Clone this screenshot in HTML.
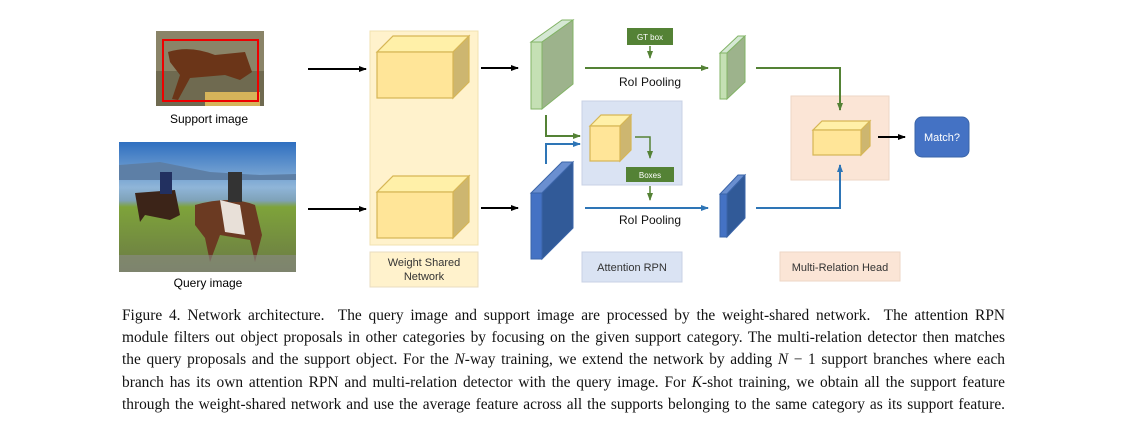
<!DOCTYPE html>
<html><head><meta charset="utf-8"><style>
html,body{margin:0;padding:0;background:#fff;width:1127px;height:430px;overflow:hidden;position:relative}
svg{position:absolute;left:0;top:0}
.cap{position:absolute;left:122px;width:883px;font-family:"Liberation Serif",serif;font-size:15.4px;color:#111}
.cap div{height:22.2px;line-height:22.2px;text-align:justify;text-align-last:justify;white-space:normal;overflow:hidden}
i{font-style:italic}
</style></head><body>
<svg width="1127" height="300" viewBox="0 0 1127 300" font-family="Liberation Sans, sans-serif">
<defs>
<marker id="ak" markerWidth="8" markerHeight="8" refX="7" refY="4" orient="auto" markerUnits="userSpaceOnUse"><path d="M0,1 L8,4 L0,7 z" fill="#000"/></marker>
<marker id="ag" markerWidth="8" markerHeight="8" refX="7" refY="4" orient="auto" markerUnits="userSpaceOnUse"><path d="M0,1 L8,4 L0,7 z" fill="#548235"/></marker>
<marker id="ab" markerWidth="8" markerHeight="8" refX="7" refY="4" orient="auto" markerUnits="userSpaceOnUse"><path d="M0,1 L8,4 L0,7 z" fill="#2e75b6"/></marker>
<linearGradient id="sky" x1="0" y1="0" x2="0" y2="1"><stop offset="0" stop-color="#2f6fc0"/><stop offset="0.35" stop-color="#8fb5d8"/><stop offset="0.45" stop-color="#7fa2b8"/><stop offset="0.5" stop-color="#7ea33a"/><stop offset="1" stop-color="#6b7a45"/></linearGradient>
</defs>
<rect x="156" y="31" width="108" height="75" fill="#6f6a50"/>
<rect x="156" y="31" width="108" height="40" fill="#8a8468"/>
<path d="M168,52 Q190,45 215,55 L245,52 L252,72 L240,80 L225,75 L190,78 L178,100 L172,99 L180,75 L170,62z" fill="#6b3518"/>
<rect x="205" y="92" width="55" height="14" fill="#d6b45a"/>
<rect x="163" y="40" width="95" height="61" fill="none" stroke="#e00" stroke-width="2"/>
<text x="209" y="123" font-size="12" text-anchor="middle">Support image</text>
<rect x="119" y="142" width="177" height="130" fill="url(#sky)"/>
<path d="M119,165 L160,162 L210,172 L260,175 L296,174 L296,180 L119,180z" fill="#5d7fa6"/>
<path d="M135,193 L175,190 L180,215 L170,220 L145,215 L140,222z" fill="#3c2418"/>
<path d="M195,205 Q230,195 255,205 L262,235 L255,262 L250,240 L220,235 L210,262 L205,238 L195,225z" fill="#6b3a22"/>
<path d="M220,200 L240,205 L245,235 L225,232z" fill="#e8e0d8"/>
<rect x="228" y="172" width="14" height="30" fill="#333"/>
<rect x="160" y="172" width="12" height="22" fill="#223060"/>
<rect x="119" y="255" width="177" height="17" fill="#8a8a88" opacity="0.6"/>
<text x="208" y="287" font-size="12" text-anchor="middle">Query image</text>
<line x1="308" y1="69" x2="366" y2="69" stroke="#000" stroke-width="2" marker-end="url(#ak)"/>
<line x1="308" y1="209" x2="366" y2="209" stroke="#000" stroke-width="2" marker-end="url(#ak)"/>
<rect x="370" y="31" width="108" height="214" fill="#fff2cc" stroke="#f0e2b0"/>
<rect x="370" y="252" width="108" height="35" fill="#fff2cc" stroke="#e8dcc0"/>
<text x="424" y="266" font-size="11" text-anchor="middle" fill="#333">Weight Shared</text>
<text x="424" y="280" font-size="11" text-anchor="middle" fill="#333">Network</text>
<g stroke="#d6b656" stroke-width="1.2">
<path d="M377,52 L393,36 L469,36 L453,52z" fill="#fff0a8"/>
<path d="M453,52 L469,36 L469,82 L453,98z" fill="#cdb670"/>
<rect x="377" y="52" width="76" height="46" fill="#ffe598"/>
<path d="M377,192 L393,176 L469,176 L453,192z" fill="#fff0a8"/>
<path d="M453,192 L469,176 L469,222 L453,238z" fill="#cdb670"/>
<rect x="377" y="192" width="76" height="46" fill="#ffe598"/>
</g>
<line x1="481" y1="68" x2="518" y2="68" stroke="#000" stroke-width="2" marker-end="url(#ak)"/>
<line x1="481" y1="208" x2="518" y2="208" stroke="#000" stroke-width="2" marker-end="url(#ak)"/>
<g stroke="#82b366" stroke-width="1">
<path d="M531,42 L542,42 L573,20 L562,20z" fill="#d5e8d4"/>
<path d="M542,42 L573,20 L573,84 L542,109z" fill="#9db38c"/>
<rect x="531" y="42" width="11" height="67" fill="#c5e0b4"/>
</g>
<g stroke="#3a64a8" stroke-width="1">
<path d="M531,193 L542,193 L573,162 L562,162z" fill="#6a8fd0"/>
<path d="M542,193 L573,162 L573,228 L542,259z" fill="#315a98"/>
<rect x="531" y="193" width="11" height="66" fill="#4472c4"/>
</g>
<rect x="627" y="28" width="46" height="17" fill="#548235"/>
<text x="650" y="40" font-size="8" text-anchor="middle" fill="#fff">GT box</text>
<line x1="650" y1="46" x2="650" y2="58" stroke="#548235" stroke-width="1.5" marker-end="url(#ag)"/>
<line x1="585" y1="68" x2="708" y2="68" stroke="#548235" stroke-width="2" marker-end="url(#ag)"/>
<text x="650" y="86" font-size="12" text-anchor="middle" fill="#111">RoI Pooling</text>
<rect x="582" y="101" width="100" height="84" fill="#dae3f3" stroke="#c8d2e4"/>
<g stroke="#d6b656" stroke-width="1.2">
<path d="M590,126 L601,115 L631,115 L620,126z" fill="#fff0a8"/>
<path d="M620,126 L631,115 L631,150 L620,161z" fill="#cdb670"/>
<rect x="590" y="126" width="30" height="35" fill="#ffe598"/>
</g>
<polyline points="546,115 546,136 580,136" fill="none" stroke="#548235" stroke-width="2" marker-end="url(#ag)"/>
<polyline points="546,164 546,144 580,144" fill="none" stroke="#2e75b6" stroke-width="2" marker-end="url(#ab)"/>
<polyline points="635,137 650,137 650,158" fill="none" stroke="#548235" stroke-width="1.5" marker-end="url(#ag)"/>
<rect x="626" y="167" width="48" height="15" fill="#548235"/>
<text x="650" y="178" font-size="8" text-anchor="middle" fill="#fff">Boxes</text>
<line x1="650" y1="186" x2="650" y2="200" stroke="#548235" stroke-width="1.5" marker-end="url(#ag)"/>
<line x1="585" y1="208" x2="708" y2="208" stroke="#2e75b6" stroke-width="2" marker-end="url(#ab)"/>
<text x="650" y="224" font-size="12" text-anchor="middle" fill="#111">RoI Pooling</text>
<rect x="582" y="252" width="100" height="30" fill="#dae3f3" stroke="#c8d2e4"/>
<text x="632" y="271" font-size="11" text-anchor="middle" fill="#333">Attention RPN</text>
<g stroke="#82b366" stroke-width="1">
<path d="M720,53 L727,53 L745,36 L738,36z" fill="#d5e8d4"/>
<path d="M727,53 L745,36 L745,82 L727,99z" fill="#9db38c"/>
<rect x="720" y="53" width="7" height="46" fill="#c5e0b4"/>
</g>
<g stroke="#3a64a8" stroke-width="1">
<path d="M720,194 L727,194 L745,175 L738,175z" fill="#6a8fd0"/>
<path d="M727,194 L745,175 L745,218 L727,237z" fill="#315a98"/>
<rect x="720" y="194" width="7" height="43" fill="#4472c4"/>
</g>
<rect x="791" y="96" width="98" height="84" fill="#fbe5d6" stroke="#eed6c6"/>
<polyline points="756,68 840,68 840,110" fill="none" stroke="#548235" stroke-width="2" marker-end="url(#ag)"/>
<polyline points="756,208 840,208 840,165" fill="none" stroke="#2e75b6" stroke-width="2" marker-end="url(#ab)"/>
<g stroke="#d6b656" stroke-width="1.2">
<path d="M813,130 L822,121 L870,121 L861,130z" fill="#fff0a8"/>
<path d="M861,130 L870,121 L870,146 L861,155z" fill="#cdb670"/>
<rect x="813" y="130" width="48" height="25" fill="#ffe598"/>
</g>
<line x1="878" y1="137" x2="905" y2="137" stroke="#000" stroke-width="2" marker-end="url(#ak)"/>
<rect x="915" y="117" width="54" height="40" rx="7" fill="#4472c4" stroke="#3a64a8"/>
<text x="942" y="141" font-size="11" text-anchor="middle" fill="#fff">Match?</text>
<rect x="780" y="252" width="120" height="29" fill="#fbe5d6" stroke="#eed6c6"/>
<text x="840" y="271" font-size="11" text-anchor="middle" fill="#333">Multi-Relation Head</text>
</svg>
<div class="cap" style="top:305px">
<div>Figure 4. Network architecture.&nbsp; The query image and support image are processed by the weight-shared network.&nbsp; The attention RPN</div>
<div>module filters out object proposals in other categories by focusing on the given support category. The multi-relation detector then matches</div>
<div>the query proposals and the support object. For the <i>N</i>-way training, we extend the network by adding <i>N</i> − 1 support branches where each</div>
<div>branch has its own attention RPN and multi-relation detector with the query image. For <i>K</i>-shot training, we obtain all the support feature</div>
<div>through the weight-shared network and use the average feature across all the supports belonging to the same category as its support feature.</div>
</div>
</body></html>
